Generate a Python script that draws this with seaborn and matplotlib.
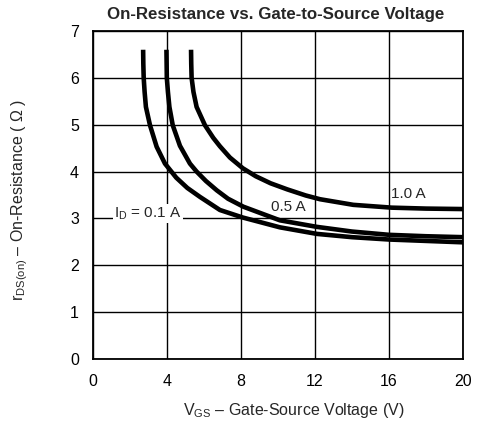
import matplotlib
matplotlib.use("Agg")
import matplotlib.pyplot as plt
import seaborn as sns
import pandas as pd

# Data
v_01 = [2.71, 2.72, 2.74, 2.79, 2.86, 3.08, 3.44, 3.89, 4.5, 5.1, 5.78, 6.86, 8.09, 10.1, 12.1, 14, 16, 18, 20]
r_01 = [6.6, 6.3, 6.0, 5.7, 5.38, 4.99, 4.53, 4.17, 3.87, 3.65, 3.46, 3.18, 3.02, 2.81, 2.67, 2.6, 2.55, 2.52, 2.49]
v_05 = [3.97, 3.98, 3.99, 4.05, 4.13, 4.31, 4.7, 5.24, 5.6, 6.1, 6.69, 7.3, 8.13, 10.1, 12.1, 14, 16, 18, 20]
r_05 = [6.6, 6.3, 6.0, 5.7, 5.38, 4.99, 4.55, 4.17, 4.0, 3.8, 3.6, 3.42, 3.25, 2.96, 2.82, 2.72, 2.65, 2.62, 2.6]
v_10 = [5.3, 5.31, 5.33, 5.43, 5.6, 6.05, 6.5, 6.86, 7.4, 8.1, 8.8, 9.6, 10.5, 11.5, 12.27, 14.07, 16.15, 18, 20]
r_10 = [6.6, 6.3, 6.0, 5.7, 5.38, 4.99, 4.72, 4.54, 4.3, 4.07, 3.9, 3.75, 3.62, 3.49, 3.41, 3.29, 3.23, 3.21, 3.2]

x_ticks = [0, 4, 8, 12, 16, 20]
y_ticks = [0, 1, 2, 3, 4, 5, 6, 7]

sns.set_theme(style="white")
plt.rcParams['font.family'] = ['Liberation Sans', 'DejaVu Sans']
plt.rcParams['mathtext.fontset'] = 'custom'
plt.rcParams['mathtext.rm'] = 'Liberation Sans'

frames = []
for name, v, r in [("0.1 A", v_01, r_01), ("0.5 A", v_05, r_05), ("1.0 A", v_10, r_10)]:
    frames.append(pd.DataFrame({"V": v, "R": r, "ID": name}))
df = pd.concat(frames, ignore_index=True)

fig = plt.figure(figsize=(4.8, 4.21), dpi=100)
ax = fig.add_axes([93/480, 1 - 359/421, 370/480, 328/421])

ax.set_xlim(0, 20)
ax.set_ylim(0, 7)
ax.set_xticks(x_ticks)
ax.set_yticks(y_ticks)
ax.grid(True, color="black", linewidth=1.0)
ax.set_axisbelow(True)

for name in ["0.1 A", "0.5 A", "1.0 A"]:
    sub = df[df["ID"] == name]
    sns.lineplot(data=sub, x="V", y="R", ax=ax, color="black", linewidth=3.3,
                 sort=False, estimator=None, legend=False, zorder=3,
                 solid_joinstyle="round", solid_capstyle="butt")

box = dict(facecolor="white", edgecolor="none", pad=1.0)
ax.text(1.15, 3.11, r"I$_\mathregular{D}$ = 0.1 A", fontsize=11, va="center", ha="left", bbox=box, zorder=2)
ax.text(9.6, 3.25, "0.5 A", fontsize=11, va="center", ha="left", bbox=box, zorder=2)
ax.text(16.1, 3.52, "1.0 A", fontsize=11, va="center", ha="left", zorder=2)

for s in ax.spines.values():
    s.set_color("black")
    s.set_linewidth(1.3)
ax.tick_params(axis="x", length=0, pad=11, labelsize=11.5, colors="black")
ax.tick_params(axis="y", length=0, pad=10, labelsize=11.5, colors="black")
ax.set_xlabel("")
ax.set_ylabel("")

fig.text(294/480, 1 - 411/421, r"V$_\mathregular{GS}$ – Gate-Source Voltage (V)",
         fontsize=11.5, ha="center", va="center")
fig.text(20/480, 1 - 200/421, r"r$_\mathregular{DS(on)}$ – On-Resistance ( Ω )",
         fontsize=11.5, ha="center", va="center", rotation=90)

fig.text(276/480, 1 - 15/421, "On-Resistance vs. Gate-to-Source Voltage",
         fontsize=12.2, fontweight="bold", ha="center", va="center")

fig.savefig("out.png", dpi=100)
